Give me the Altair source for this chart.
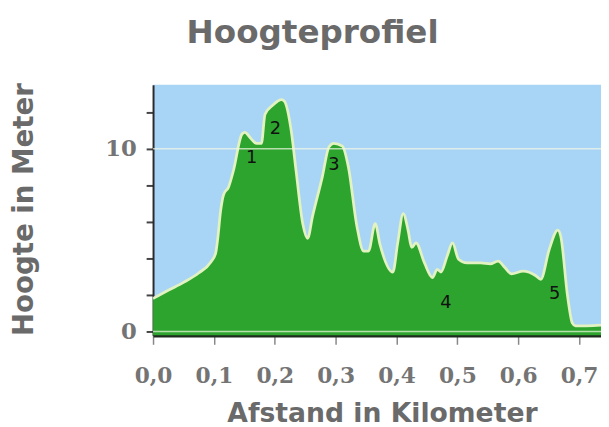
import altair as alt
import pandas as pd

# profile (distance km, height m)
dist = [0.000, 0.025, 0.051, 0.075, 0.095, 0.103, 0.106, 0.111, 0.116, 0.124, 0.132, 0.146, 0.151,
        0.160, 0.170, 0.178, 0.184, 0.197, 0.211, 0.216, 0.227, 0.235, 0.246, 0.254, 0.262,
        0.278, 0.289, 0.297, 0.311, 0.321, 0.335, 0.346, 0.354, 0.365, 0.373, 0.394, 0.402,
        0.411, 0.419, 0.425, 0.432, 0.446, 0.459, 0.467, 0.473, 0.483, 0.492, 0.502, 0.516,
        0.538, 0.554, 0.567, 0.578, 0.589, 0.608, 0.629, 0.637, 0.651, 0.665, 0.670, 0.681,
        0.689, 0.694, 0.736]
height = [1.8, 2.25, 2.7, 3.2, 3.8, 4.3, 5.0, 6.6, 7.5, 7.9, 8.8, 10.8, 10.9,
          10.6, 10.3, 10.3, 11.9, 12.4, 12.7, 12.6, 11.0, 8.8, 5.9, 5.1, 6.3,
          8.45, 10.1, 10.3, 10.15, 9.0, 5.75, 4.4, 4.4, 5.9, 4.75, 3.25, 4.85,
          6.45, 5.55, 4.6, 4.85, 3.75, 2.95, 3.4, 3.25, 4.1, 4.85, 3.95, 3.75,
          3.75, 3.7, 3.85, 3.5, 3.15, 3.3, 3.05, 2.85, 4.5, 5.55, 5.2, 1.95,
          0.45, 0.3, 0.35]

# numbered markers
mark_labels = ["1", "2", "3", "4", "5"]
mark_x = [0.162, 0.201, 0.297, 0.481, 0.660]
mark_y = [9.5, 11.1, 9.1, 1.57, 2.05]

x_ticks = [0.0, 0.1, 0.2, 0.3, 0.4, 0.5, 0.6, 0.7]
y_ticks = list(range(0, 14))
grid_vals = [0, 10]

YMIN, YMAX = -0.22, 13.51
XMAX = 0.736

prof = pd.DataFrame({"d": dist, "h": height})
marks = pd.DataFrame({"lab": mark_labels, "d": mark_x, "h": mark_y})
grid = pd.DataFrame({"h": grid_vals})

xscale = alt.Scale(domain=[0, XMAX], nice=False, zero=False)
yscale = alt.Scale(domain=[YMIN, YMAX], nice=False, zero=False)

label_font = "DejaVu Serif"
title_font = "DejaVu Sans"

xaxis = alt.Axis(
    values=x_ticks,
    labelExpr="replace(format(datum.value, '.1f'), '.', ',')",
    labelFlush=False, labelOverlap=False,
    title="Afstand in Kilometer",
    titleFont=title_font, titleFontSize=27, titleFontWeight="bold", titleColor="#6a6a6a",
    titleX=232, titleY=87, titleBaseline="alphabetic", titleAnchor="middle", titleAlign="center",
    labelFont=label_font, labelFontSize=22, labelFontWeight="bold", labelColor="#747474",
    labelPadding=39, labelBaseline="alphabetic",
    tickSize=9, tickColor="#888888", tickWidth=1.5,
    domainColor="#1f2a1f", domainWidth=3, grid=False,
)
yaxis = alt.Axis(
    values=y_ticks,
    labelExpr="datum.value % 10 == 0 ? datum.value : ''",
    labelOverlap=False, labelFlush=False,
    title="Hoogte in Meter",
    titleFont=title_font, titleFontSize=28, titleFontWeight="bold", titleColor="#6a6a6a",
    titleX=-122, titleY=126, titleAngle=-90, titleBaseline="alphabetic",
    titleAnchor="middle", titleAlign="center",
    labelFont=label_font, labelFontSize=23, labelFontWeight="bold", labelColor="#747474",
    labelPadding=10, tickSize=7, tickColor="#444444", tickWidth=2,
    domainColor="#2a2a2a", domainWidth=2, grid=False,
)

base = alt.Chart(prof)

area = base.mark_area(
    color="#2da42d", opacity=1, interpolate="monotone", clip=True,
    line={"color": "#e2f2c0", "strokeWidth": 2.8},
).encode(
    x=alt.X("d:Q", scale=xscale, axis=xaxis),
    y=alt.Y("h:Q", scale=yscale, axis=yaxis),
    y2=alt.datum(YMIN),
)

rules = alt.Chart(grid).mark_rule(color="#f3f8e6", opacity=0.7, strokeWidth=1.5).encode(
    y=alt.Y("h:Q", scale=yscale)
)

texts = alt.Chart(marks).mark_text(
    font="DejaVu Sans", fontSize=18, color="#111111", baseline="middle", align="center"
).encode(
    x=alt.X("d:Q", scale=xscale),
    y=alt.Y("h:Q", scale=yscale),
    text="lab:N",
)

chart = alt.layer(area, rules, texts).properties(
    width=454, height=254,
    autosize=alt.AutoSizeParams(type="none"),
    padding={"left": 147, "top": 75, "right": 0, "bottom": 90},
    background="white",
    title=alt.Title(
        "Hoogteprofiel", font=title_font, fontSize=33, fontWeight="bold", color="#6a6a6a",
        anchor="start", baseline="alphabetic", dx=178, dy=13, offset=20,
    ),
).configure_view(
    fill="#a8d4f6",
    stroke=None,
)

chart.save("out.html", embed_options={"renderer": "svg", "actions": False})
